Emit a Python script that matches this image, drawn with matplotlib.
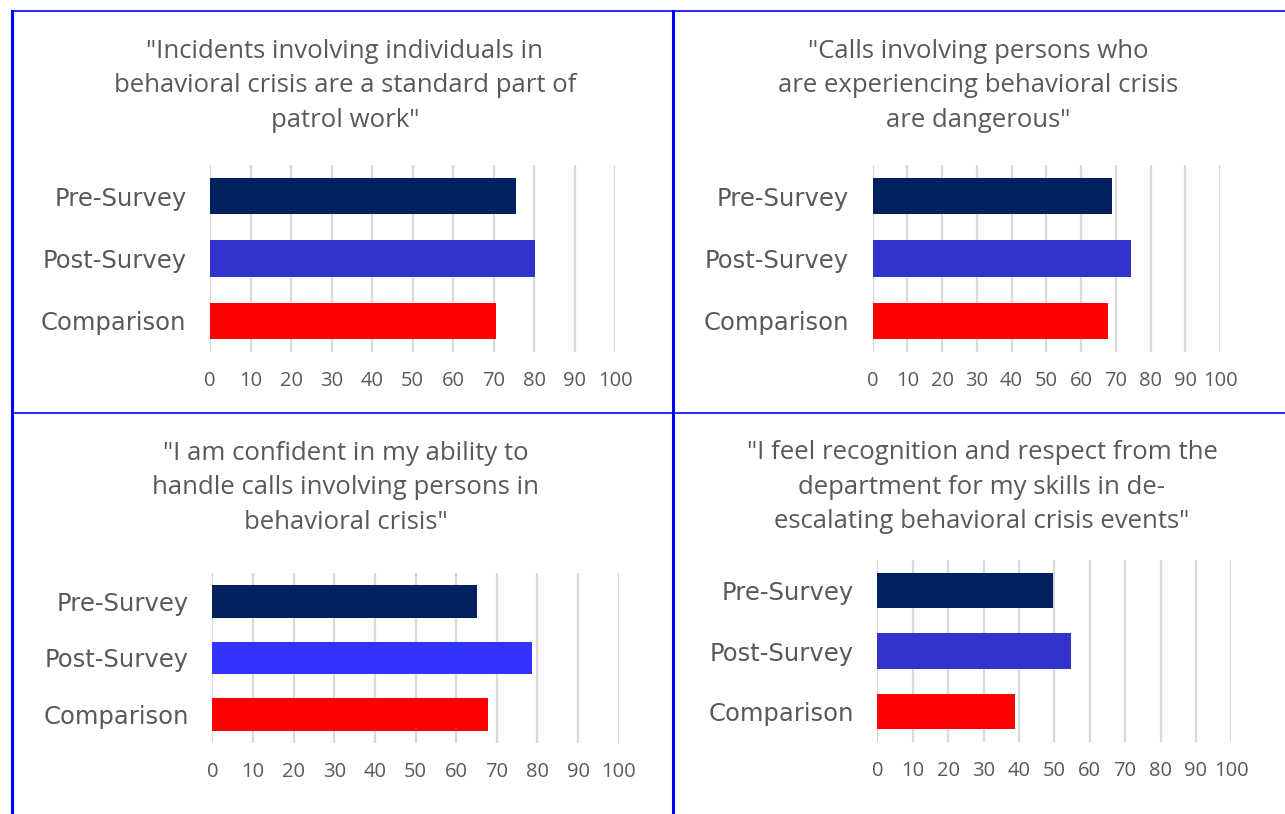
import matplotlib.pyplot as plt

# survey groups, top to bottom
groups = ["Pre-Survey", "Post-Survey", "Comparison"]

titles = [
    '"Incidents involving individuals in\nbehavioral crisis are a standard part of\npatrol work"',
    '"Calls involving persons who\nare experiencing behavioral crisis\nare dangerous"',
    '"I am confident in my ability to\nhandle calls involving persons in\nbehavioral crisis"',
    '"I feel recognition and respect from the\ndepartment for my skills in de-\nescalating behavioral crisis events"',
]

# percent agreeing, per statement
standard_part = [75.4, 80.3, 70.5]
dangerous = [68.9, 74.4, 67.8]
confident = [65.1, 78.7, 67.8]
recognition = [49.6, 54.7, 38.9]

ticks = list(range(0, 101, 10))

NAVY = "#002060"
RED = "#FF0000"
GRAY = "#595959"

W, H = 1285, 814
fig = plt.figure(figsize=(W / 100, H / 100), dpi=100)


def px_axes(x0, x1, ytop, ybot):
    return fig.add_axes([x0 / W, 1 - ybot / H, (x1 - x0) / W, (ybot - ytop) / H])


# (x0, x1, ytop, ybot) in pixels, title centre, post-survey colour
panels = [
    ((210, 615.3, 165, 352), (345, 86), "#3333CC", standard_part),
    ((872.7, 1220, 165, 352), (978, 86), "#3333CC", dangerous),
    ((212.3, 618.7, 573, 743), (346, 488), "#3333FF", confident),
    ((877.3, 1231.3, 560, 742), (982, 487), "#3333CC", recognition),
]

for i, (box, tpos, post_col, vals) in enumerate(panels):
    ax = px_axes(*box)
    ypos = list(range(len(groups)))
    ax.barh(ypos, vals, height=0.58, color=[NAVY, post_col, RED], zorder=3)
    ax.set_xlim(0, 100)
    ax.set_ylim(len(groups) - 0.5, -0.5)
    ax.set_xticks(ticks)
    ax.set_yticks(ypos)
    ax.set_yticklabels(groups, family="DejaVu Sans", fontsize=17.5, color=GRAY)
    for lab in ax.get_xticklabels():
        lab.set_family("Open Sans")
        lab.set_fontsize(14.5)
        lab.set_color(GRAY)
    ax.tick_params(axis="x", length=0, pad=14)
    ax.tick_params(axis="y", length=0, pad=17)
    ax.grid(axis="x", color="#D9D9D9", linewidth=1.6, zorder=0)
    for s in ax.spines.values():
        s.set_visible(False)
    fig.text(tpos[0] / W, 1 - tpos[1] / H, titles[i], ha="center", va="center",
             family="Open Sans", fontsize=18.5, color=GRAY, linespacing=1.48)

# blue frame lines between the panels
frame = fig.add_axes([0, 0, 1, 1])
frame.set_xlim(0, W)
frame.set_ylim(H, 0)
frame.axis("off")
frame.plot([12, W], [11, 11], color="#0000FF", lw=1.2)
frame.plot([12, 12], [11, H], color="#0000FF", lw=2.2)
frame.plot([673, 673], [11, H], color="#0000FF", lw=2.2)
frame.plot([12, W], [413, 413], color="#0000FF", lw=1.2)

fig.savefig("out.png", dpi=100)
